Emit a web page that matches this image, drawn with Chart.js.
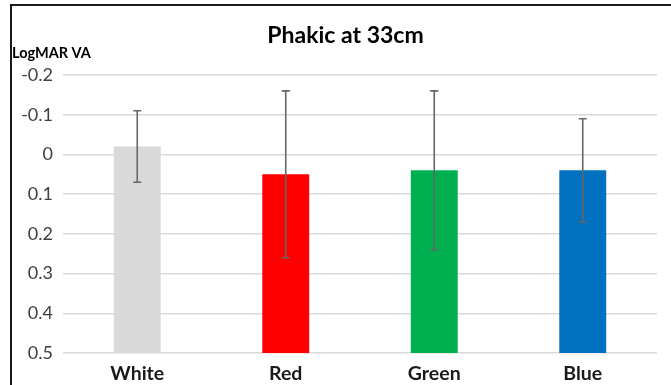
<!DOCTYPE html>
<html>
<head>
<meta charset="utf-8">
<script src="https://cdn.jsdelivr.net/npm/chart.js@4/dist/chart.umd.min.js"></script>
<style>
  html, body { margin: 0; padding: 0; background: #fff; }
  #wrap { position: relative; width: 671px; height: 385px; overflow: hidden; }
  #frame { position: absolute; left: 10px; top: 4px; width: 700px; height: 400px;
           border-top: 2px solid #1a1a1a; border-left: 2px solid #1a1a1a; pointer-events: none; }
  canvas { position: absolute; left: 0; top: 0; }
</style>
</head>
<body>
<div id="wrap">
  <canvas id="c" width="671" height="385"></canvas>
  <div id="frame"></div>
</div>
<script>
// ---- data ----
const categories = ['White', 'Red', 'Green', 'Blue'];
const meanValues = [-0.02, 0.05, 0.04, 0.04];
const errUpper = [-0.11, -0.16, -0.16, -0.09];   // top of error bar
const errLower = [0.07, 0.26, 0.24, 0.17];       // bottom of error bar
const barColors = ['#d9d9d9', '#ff0000', '#00b050', '#0070c0'];
const yTickMin = -0.2;
const yTickMax = 0.5;
const yTickStep = 0.1;
const chartTitle = 'Phakic at 33cm';
const yAxisLabel = 'LogMAR VA';

const FONT = 'Lato, "Open Sans", sans-serif';

const errorBarPlugin = {
  id: 'errorBars',
  afterDatasetsDraw(chart) {
    const ctx = chart.ctx;
    const y = chart.scales.y;
    const meta = chart.getDatasetMeta(0);
    ctx.save();
    ctx.strokeStyle = '#666666';
    ctx.lineWidth = 1.6;
    meta.data.forEach((bar, i) => {
      const x = bar.x;
      const y1 = y.getPixelForValue(errUpper[i]);
      const y2 = y.getPixelForValue(errLower[i]);
      const cap = 4;
      ctx.beginPath();
      ctx.moveTo(x, y1); ctx.lineTo(x, y2);
      ctx.moveTo(x - cap, y1); ctx.lineTo(x + cap, y1);
      ctx.moveTo(x - cap, y2); ctx.lineTo(x + cap, y2);
      ctx.stroke();
    });
    ctx.restore();
  }
};

const textPlugin = {
  id: 'texts',
  afterDraw(chart) {
    const ctx = chart.ctx;
    ctx.save();
    ctx.fillStyle = '#000';
    ctx.textBaseline = 'middle';
    ctx.font = 'bold 23px ' + FONT;
    ctx.textAlign = 'center';
    ctx.fillText(chartTitle, 345.5, 36);
    ctx.font = 'bold 14.5px ' + FONT;
    ctx.textAlign = 'left';
    ctx.fillText(yAxisLabel, 12, 53);
    ctx.restore();
  }
};

new Chart(document.getElementById('c'), {
  type: 'bar',
  data: {
    labels: categories,
    datasets: [{
      data: meanValues.map(v => [yTickMax, v]),
      backgroundColor: barColors,
      borderWidth: 0,
      barPercentage: 0.316,
      categoryPercentage: 1.0
    }]
  },
  options: {
    responsive: false,
    animation: false,
    devicePixelRatio: 1,
    layout: { padding: { left: 0, right: 14, top: 75, bottom: 0 } },
    plugins: {
      legend: { display: false },
      tooltip: { enabled: false },
      title: { display: false }
    },
    scales: {
      y: {
        reverse: true,
        min: yTickMin,
        max: yTickMax,
        ticks: {
          stepSize: yTickStep,
          color: '#404040',
          font: { family: FONT, size: 18 },
          padding: 10,
          callback: v => String(Math.round(v * 10) / 10)
        },
        grid: { color: '#d9d9d9', lineWidth: 1.5, drawTicks: false },
        border: { display: false },
        afterFit(s) { s.width = 63; }
      },
      x: {
        ticks: {
          color: '#1a1a1a',
          font: { family: FONT, size: 19.5, weight: 'bold' },
          padding: 1
        },
        grid: { display: false },
        border: { display: false },
        afterFit(s) { s.height = 32; }
      }
    }
  },
  plugins: [errorBarPlugin, textPlugin]
});
</script>
</body>
</html>
